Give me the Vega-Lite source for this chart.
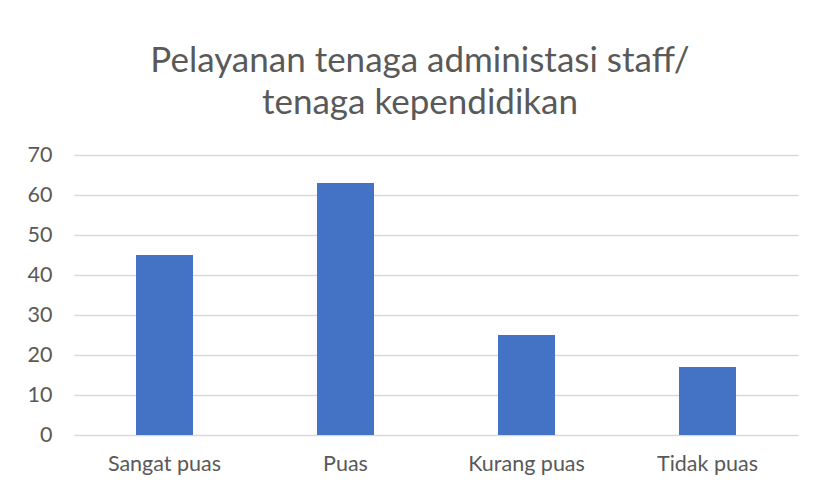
{
  "$schema": "https://vega.github.io/schema/vega-lite/v6.json",
  "autosize": {"type": "none"},
  "padding": {"left": 74, "top": 155, "right": 18, "bottom": 54},
  "width": 724,
  "height": 280,
  "background": "white",
  "title": {
    "text": ["Pelayanan tenaga administasi staff/", "tenaga kependidikan"],
    "font": "Lato",
    "fontSize": 35,
    "fontWeight": "normal",
    "color": "#595959",
    "anchor": "middle",
    "dx": -16,
    "offset": 23,
    "lineHeight": 42
  },
  "data": {
    "values": [
      {"kategori": "Sangat puas", "nilai": 45},
      {"kategori": "Puas", "nilai": 63},
      {"kategori": "Kurang puas", "nilai": 25},
      {"kategori": "Tidak puas", "nilai": 17}
    ]
  },
  "mark": {"type": "bar", "color": "#4472C4"},
  "encoding": {
    "x": {
      "field": "kategori",
      "type": "nominal",
      "sort": null,
      "scale": {"paddingInner": 0.685, "paddingOuter": 0.3425},
      "axis": {
        "title": null,
        "labelAngle": 0,
        "labelFont": "Lato",
        "labelFontSize": 21.5,
        "labelColor": "#595959",
        "labelPadding": 18,
        "ticks": false,
        "domain": false,
        "grid": false
      }
    },
    "y": {
      "field": "nilai",
      "type": "quantitative",
      "scale": {"domain": [0, 70], "nice": false},
      "axis": {
        "title": null,
        "values": [0, 10, 20, 30, 40, 50, 60, 70],
        "labelFont": "Lato",
        "labelFontSize": 21.5,
        "labelColor": "#595959",
        "labelPadding": 22,
        "ticks": false,
        "domain": false,
        "grid": true,
        "gridColor": "#d9d9d9",
        "gridWidth": 1.5
      }
    }
  },
  "config": {"view": {"stroke": null}}
}
